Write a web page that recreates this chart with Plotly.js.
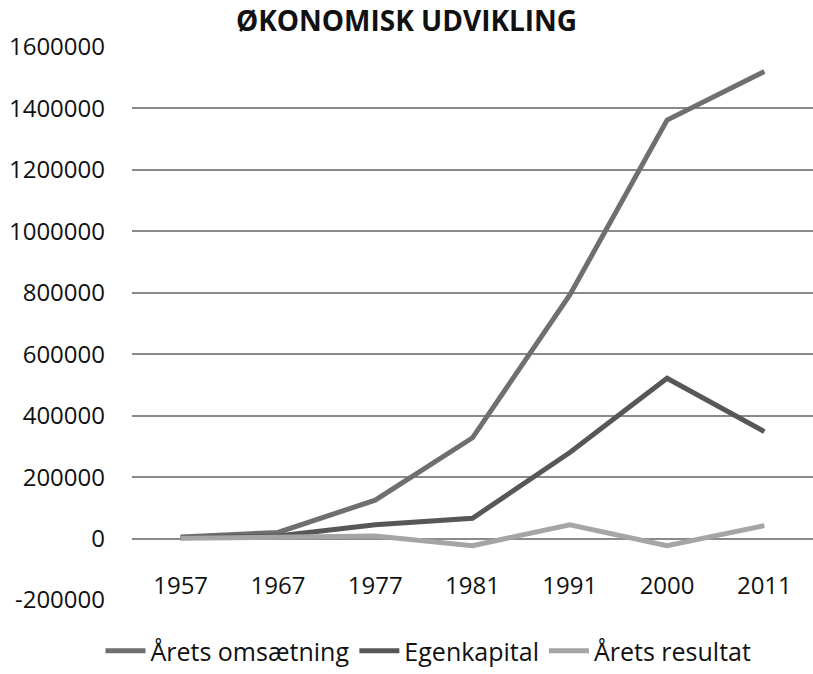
<!DOCTYPE html>
<html>
<head>
<meta charset="utf-8">
<script src="https://cdn.plot.ly/plotly-3.0.1.min.js"></script>
<style>html,body{margin:0;padding:0;background:#fff;}#chart{width:813px;height:674px;}</style>
</head>
<body>
<div id="chart"></div>
<script>
const years = ["1957", "1967", "1977", "1981", "1991", "2000", "2011"];
const omsaetning = [5000, 20000, 125000, 328000, 793000, 1362000, 1520000];
const egenkapital = [3000, 8000, 45000, 66000, 280000, 522000, 348000];
const resultat = [1000, 3000, 8000, -23000, 45000, -23000, 42000];
const seriesNames = ["Årets omsætning", "Egenkapital", "Årets resultat"];
const yTicks = [-200000, 0, 200000, 400000, 600000, 800000, 1000000, 1200000, 1400000, 1600000];

const font = "Open Sans, Lato, sans-serif";
function tr(name, y, color) {
  return {x: years, y: y, name: name, type: 'scatter', mode: 'lines',
    line: {color: color, width: 5, shape: 'linear'}};
}
const data = [
  tr(seriesNames[0], omsaetning, '#6f6f6f'),
  tr(seriesNames[1], egenkapital, '#575757'),
  tr(seriesNames[2], resultat, '#a5a5a5')
];
const layout = {
  width: 813, height: 674,
  margin: {l: 132, r: 0, t: 47, b: 74},
  paper_bgcolor: '#fff', plot_bgcolor: '#fff',
  title: {text: '<b>ØKONOMISK UDVIKLING</b>', font: {family: font, size: 28, color: '#111'},
    x: 0.5, xref: 'container', xanchor: 'center', y: 1 - 21/674, yref: 'container', yanchor: 'middle'},
  xaxis: {type: 'category', range: [-0.5, 6.5], anchor: 'free', position: 1/9, showgrid: false, zeroline: false,
    showline: false, ticks: '', ticklabelstandoff: 30,
    tickfont: {family: font, size: 24, color: '#111'}},
  yaxis: {range: [-200000, 1600000], tickvals: yTicks, ticktext: yTicks.map(String),
    showgrid: true, gridcolor: '#8a8a8a', gridwidth: 2, zeroline: false,
    ticks: '', ticklabelstandoff: 26,
    tickfont: {family: font, size: 24, color: '#111'}},
  showlegend: true,
  legend: {orientation: 'h', xref: 'container', yref: 'container', x: 0.527, xanchor: 'center',
    y: 0, yanchor: 'bottom', font: {family: font, size: 25, color: '#111'},
    itemwidth: 40, tracegroupgap: 0},
};
Plotly.newPlot('chart', data, layout, {displayModeBar: false, staticPlot: true});
</script>
</body>
</html>
